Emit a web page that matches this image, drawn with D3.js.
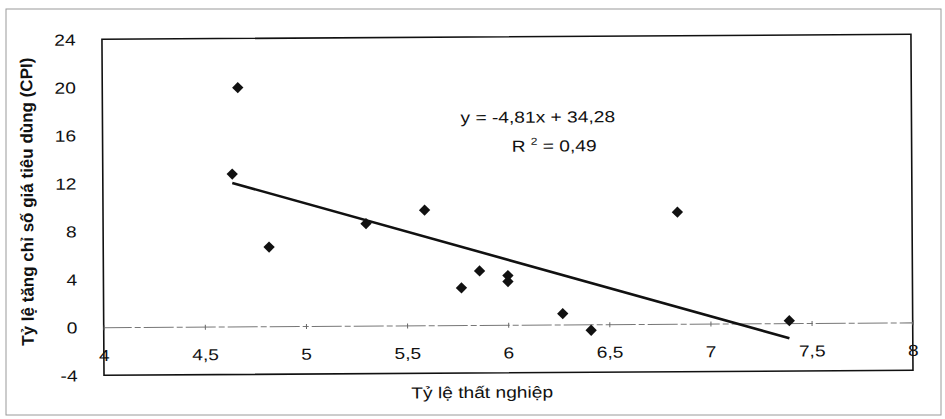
<!DOCTYPE html>
<html>
<head>
<meta charset="utf-8">
<script src="https://cdn.jsdelivr.net/npm/d3@7"></script>
<style>
  body { margin: 0; background: #fff; }
  svg { display: block; font-family: "Liberation Sans", Arial, sans-serif; }
</style>
</head>
<body>
<script>
// data
var unemployment = [4.64, 4.67, 4.82, 5.30, 5.59, 5.77, 5.86, 6.00, 6.00, 6.27, 6.41, 6.84, 7.39];
var cpiGrowth    = [12.7, 19.9, 6.6, 8.5, 9.6, 3.1, 4.5, 4.1, 3.6, 0.9, -0.5, 9.3, 0.2];
var xTicks = [4, 4.5, 5, 5.5, 6, 6.5, 7, 7.5, 8];
var yTicks = [-4, 0, 4, 8, 12, 16, 20, 24];
var slope = -4.81, intercept = 34.28, rSquared = 0.49;
var xTitle = "Tỷ lệ thất nghiệp";
var yTitle = "Tỷ lệ tăng chỉ số giá tiêu dùng (CPI)";

var points = unemployment.map(function (u, i) { return {x: u, y: cpiGrowth[i]}; });

// set the dimensions of the graph
var width = 945, height = 419;
var plot = {left: 103, right: 912, top: 37, bottom: 373};
var stretch = 1.2; // the scan is a bit wider than tall

function fmt(d) {
    return String(d).replace('.', ',');
}

var x = d3.scaleLinear().domain([4, 8]).range([plot.left, plot.right]);
var y = d3.scaleLinear().domain([-4, 24]).range([plot.bottom, plot.top]);

var svg = d3.select("body").append("svg")
    .attr("width", width)
    .attr("height", height);

// outer frame of the chart object
svg.append("rect")
    .attr("x", 6).attr("y", 9)
    .attr("width", 935).attr("height", 406)
    .attr("fill", "none")
    .attr("stroke", "#9a9a9a")
    .attr("stroke-width", 1);

// whole chart is slightly tilted in the scan
var g = svg.append("g")
    .attr("transform", "rotate(-0.35," + (width / 2) + "," + (height / 2) + ")");

// plot area border
g.append("rect")
    .attr("x", plot.left).attr("y", plot.top)
    .attr("width", plot.right - plot.left)
    .attr("height", plot.bottom - plot.top)
    .attr("fill", "none")
    .attr("stroke", "#111")
    .attr("stroke-width", 1.6);

// Y axis labels
var yAxis = g.append("g")
    .attr("class", "y axis")
    .attr("transform", "translate(" + plot.left + ",0)")
    .call(d3.axisLeft(y).tickValues(yTicks).tickSize(0).tickFormat(fmt));
yAxis.select(".domain").remove();
yAxis.selectAll("text")
    .attr("x", -22)
    .attr("dy", "0.35em")
    .attr("transform", "scale(" + stretch + ",1)")
    .attr("font-size", 16)
    .attr("fill", "#111");

// X axis sits on the zero line
var xAxis = g.append("g")
    .attr("class", "x axis")
    .attr("transform", "translate(0," + y(0) + ")")
    .call(d3.axisBottom(x).tickValues(xTicks).tickSizeOuter(0).tickSize(3).tickFormat(fmt));
xAxis.select(".domain")
    .attr("stroke", "#777")
    .attr("stroke-width", 1)
    .attr("stroke-dasharray", "30,3,6,3");
xAxis.selectAll(".tick line")
    .attr("y1", -2)
    .attr("stroke", "#666");
xAxis.selectAll("text")
    .attr("y", 28)
    .attr("dy", "0.35em")
    .attr("transform", "scale(" + stretch + ",1)")
    .attr("font-size", 16)
    .attr("fill", "#111");

// trend line over the range of the data
var xExt = d3.extent(unemployment);
var trend = xExt.map(function (u) { return {x: u, y: slope * u + intercept}; });
g.append("path")
    .datum(trend)
    .attr("class", "line")
    .attr("fill", "none")
    .attr("stroke", "#111")
    .attr("stroke-width", 2.6)
    .attr("d", d3.line().x(function (d) { return x(d.x); }).y(function (d) { return y(d.y); }));

// diamond markers
var diamond = d3.symbol().type(d3.symbolSquare).size(64);
g.selectAll(".dot")
    .data(points)
    .enter().append("path")
    .attr("class", "dot")
    .attr("d", diamond)
    .attr("transform", function (d) {
        return "translate(" + x(d.x) + "," + y(d.y) + ") rotate(45)";
    })
    .attr("fill", "#111");

// regression equation
g.append("text")
    .attr("transform", "translate(461,123) scale(" + stretch + ",1)")
    .attr("font-size", 16)
    .attr("fill", "#111")
    .text("y = " + fmt(slope) + "x + " + fmt(intercept));

var r2 = g.append("text")
    .attr("transform", "translate(512,152) scale(" + stretch + ",1)")
    .attr("font-size", 16)
    .attr("fill", "#111");
r2.append("tspan").text("R ");
r2.append("tspan").attr("dy", -7).attr("font-size", 10).text("2");
r2.append("tspan").attr("dy", 7).text(" = " + fmt(rSquared));

// axis titles
g.append("text")
    .attr("transform", "translate(481,398) scale(" + stretch + ",1)")
    .attr("text-anchor", "middle")
    .attr("font-size", 16)
    .attr("fill", "#111")
    .text(xTitle);

g.append("text")
    .attr("transform", "translate(33,199) rotate(-90)")
    .attr("text-anchor", "middle")
    .attr("font-size", 17)
    .attr("font-weight", "bold")
    .attr("fill", "#111")
    .text(yTitle);
</script>
</body>
</html>
